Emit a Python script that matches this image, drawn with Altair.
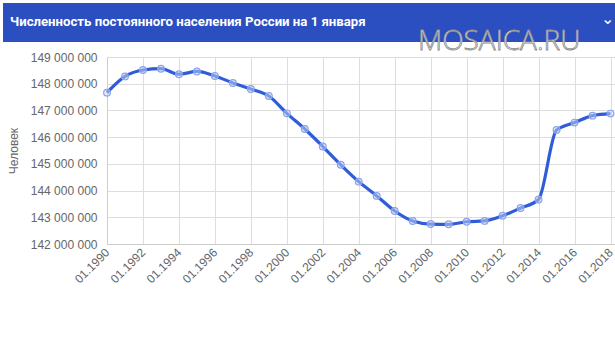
import altair as alt
import pandas as pd

years = list(range(1990, 2019))
population = [
    147665081, 148273746, 148514692, 148561694, 148355867, 148459937,
    148291638, 148028613, 147802133, 147539426, 146890128, 146303611,
    145649334, 144963650, 144333586, 143801046, 143236582, 142862692,
    142747535, 142737196, 142833502, 142865433, 143056383, 143347059,
    143666931, 146267288, 146544710, 146804372, 146880432,
]
tick_years = list(range(1990, 2019, 2))
y_ticks = [142000000 + i * 1000000 for i in range(8)]
title_text = "Численность постоянного населения России на 1 января"
watermark = "MOSAICA.RU"
y_title = "Человек"

df = pd.DataFrame({"year": years, "pop": population})
one = pd.DataFrame({"k": [0]})

x_enc = alt.X(
    "year:Q",
    scale=alt.Scale(domain=[1990, 2018.25], nice=False, zero=False),
    axis=alt.Axis(
        values=tick_years, tickCount=len(tick_years) + 5,
        labelExpr="'01.' + datum.value", labelAngle=-45,
        labelAlign="right", labelBaseline="middle", labelFontSize=12,
        labelColor="#666666", labelFont="Liberation Sans", title=None,
        gridColor="#dddddd", domainColor="#cccccc", tickColor="#cccccc",
        tickSize=0, labelPadding=6, labelFlush=False, labelOverlap=False,
    ),
)
y_enc = alt.Y(
    "pop:Q",
    scale=alt.Scale(domain=[142000000, 149000000], nice=False, zero=False),
    axis=alt.Axis(
        values=y_ticks, tickCount=len(y_ticks) + 5, labelOverlap=False,
        labelExpr="replace(format(datum.value, ',d'), regexp(',', 'g'), ' ')",
        labelFontSize=12, labelColor="#666666", labelFont="Liberation Sans",
        title=y_title, titleFontSize=12, titleFontWeight="normal",
        titleColor="#666666", titleFont="Liberation Sans", titlePadding=10,
        gridColor="#dddddd", domainColor="#cccccc", tickSize=0, labelPadding=10,
        labelFlush=False,
    ),
)

line = alt.Chart(df).mark_line(
    color="#2f5cd8", strokeWidth=3.2, interpolate="monotone"
).encode(x=x_enc, y=y_enc)

pts = alt.Chart(df).mark_point(
    shape="circle", size=45, filled=False, stroke="#8aa3ea", strokeWidth=1.2,
    fill="#c8d4f5", fillOpacity=0.5,
).encode(x="year:Q", y="pop:Q")

header = alt.Chart(one).mark_rect(color="#2b4ec0").encode(
    x=alt.value(-104), x2=alt.value(520), y=alt.value(-54), y2=alt.value(-15)
)
title = alt.Chart(one).mark_text(
    text=title_text, color="white", font="Roboto", fontWeight="bold",
    fontSize=13.2, align="left", baseline="middle",
).encode(x=alt.value(-97), y=alt.value(-35))
chevron = alt.Chart(one).mark_text(
    text="⌄", color="white", font="DejaVu Sans", fontSize=16,
    align="left", baseline="middle",
).encode(x=alt.value(494), y=alt.value(-38))
wm = alt.Chart(one).mark_text(
    text=watermark, color="white", stroke="#888888", strokeWidth=0.8,
    font="Open Sans", fontWeight=300, fontSize=28, align="left",
    baseline="alphabetic",
).encode(x=alt.value(311), y=alt.value(-7))

chart = alt.layer(header, title, chevron, line, pts, wm).properties(
    width=508, height=187,
    padding={"left": 107, "top": 57, "right": 0, "bottom": 102},
    autosize=alt.AutoSizeParams(type="none"),
).configure_view(stroke=None).configure(background="white")

chart.save("out.html", embed_options={"renderer": "svg", "actions": False})
